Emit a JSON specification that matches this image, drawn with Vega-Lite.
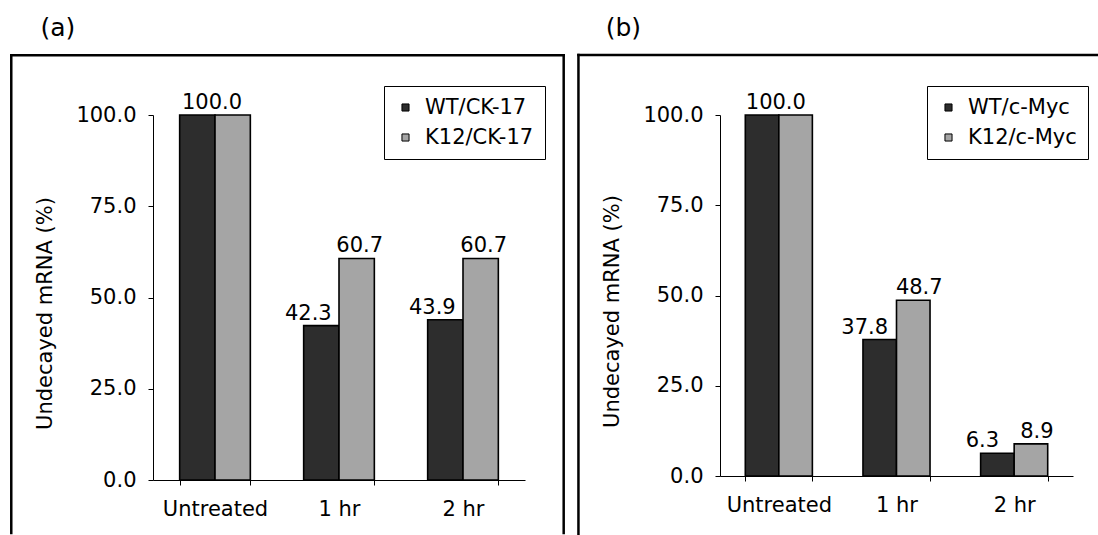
{
  "$schema": "https://vega.github.io/schema/vega-lite/v6.json",
  "autosize": {"type": "pad"},
  "padding": {"left": 9, "top": 16, "right": 0, "bottom": 0},
  "background": "white",
  "config": {
    "view": {"stroke": null},
    "font": "DejaVu Sans",
    "axis": {
      "domainColor": "black", "tickColor": "black", "labelColor": "black", "titleColor": "black",
      "domainWidth": 1, "tickWidth": 1, "tickSize": 5, "grid": false,
      "labelFontSize": 21, "titleFontSize": 21, "titleFontWeight": "normal"
    },
    "legend": {"labelColor": "black"},
    "title": {"fontSize": 25, "fontWeight": "normal", "color": "black", "anchor": "start"}
  },
  "datasets": {
    "a": [
      {"time": "Untreated", "series": "WT/CK-17", "value": 100.0},
      {"time": "Untreated", "series": "K12/CK-17", "value": 100.0},
      {"time": "1 hr", "series": "WT/CK-17", "value": 42.3},
      {"time": "1 hr", "series": "K12/CK-17", "value": 60.7},
      {"time": "2 hr", "series": "WT/CK-17", "value": 43.9},
      {"time": "2 hr", "series": "K12/CK-17", "value": 60.7}
    ],
    "b": [
      {"time": "Untreated", "series": "WT/c-Myc", "value": 100.0},
      {"time": "Untreated", "series": "K12/c-Myc", "value": 100.0},
      {"time": "1 hr", "series": "WT/c-Myc", "value": 37.8},
      {"time": "1 hr", "series": "K12/c-Myc", "value": 48.7},
      {"time": "2 hr", "series": "WT/c-Myc", "value": 6.3},
      {"time": "2 hr", "series": "K12/c-Myc", "value": 8.9}
    ]
  },
  "spacing": 10,
  "resolve": {"scale": {"color": "independent", "y": "independent", "x": "independent", "xOffset": "independent"}, "legend": {"color": "independent"}},
  "hconcat": [
    {
      "title": {"text": "(a)", "dx": 31, "offset": 12},
      "width": 372,
      "height": 365,
      "data": {"name": "a"},
      "resolve": {"scale": {"x": "independent"}},
      "layer": [
        {
          "layer": [
            {
              "mark": {"type": "bar", "stroke": "black", "strokeWidth": 1.6},
              "encoding": {
                "x": {"field": "time", "type": "nominal", "sort": ["Untreated", "1 hr", "2 hr"],
                      "scale": {"paddingInner": 0.43, "paddingOuter": 0.215},
                      "axis": {"title": null, "labelAngle": 0, "tickBand": "extent", "labelPadding": 13}},
                "xOffset": {"field": "series", "type": "nominal", "sort": ["WT/CK-17", "K12/CK-17"], "scale": {"paddingInner": 0, "paddingOuter": 0}},
                "y": {"field": "value", "type": "quantitative", "scale": {"domain": [0, 100], "nice": false},
                      "axis": {"values": [0, 25, 50, 75, 100], "format": ".1f", "title": "Undecayed mRNA (%)", "labelPadding": 12, "titlePadding": 20, "titleY": 198}},
                "color": {"field": "series", "type": "nominal", "sort": ["WT/CK-17", "K12/CK-17"],
                          "scale": {"domain": ["WT/CK-17", "K12/CK-17"], "range": ["#2d2d2d", "#a5a5a5"]},
                          "legend": {"orient": "none", "legendX": 231, "legendY": -29, "title": null,
                                     "strokeColor": "black", "fillColor": "white", "padding": 11,
                                     "labelFontSize": 21, "symbolType": "square", "symbolSize": 50,
                                     "symbolStrokeColor": "black", "symbolStrokeWidth": 1, "rowPadding": 8, "labelOffset": 9}}
              }
            },
            {
              "transform": [{"filter": "datum.series == 'WT/CK-17' && datum.time != 'Untreated'"}],
              "mark": {"type": "text", "fontSize": 21, "baseline": "alphabetic", "dy": -6, "dx": -13, "color": "black"},
              "encoding": {
                "x": {"field": "time", "type": "nominal", "sort": ["Untreated", "1 hr", "2 hr"]},
                "xOffset": {"field": "series", "type": "nominal", "sort": ["WT/CK-17", "K12/CK-17"]},
                "y": {"field": "value", "type": "quantitative"},
                "text": {"field": "value", "type": "quantitative", "format": ".1f"}
              }
            },
            {
              "transform": [{"filter": "datum.series == 'K12/CK-17' && datum.time != 'Untreated'"}],
              "mark": {"type": "text", "fontSize": 21, "baseline": "alphabetic", "dy": -6, "dx": 3, "color": "black"},
              "encoding": {
                "x": {"field": "time", "type": "nominal", "sort": ["Untreated", "1 hr", "2 hr"]},
                "xOffset": {"field": "series", "type": "nominal", "sort": ["WT/CK-17", "K12/CK-17"]},
                "y": {"field": "value", "type": "quantitative"},
                "text": {"field": "value", "type": "quantitative", "format": ".1f"}
              }
            },
            {
              "transform": [{"filter": "datum.series == 'WT/CK-17' && datum.time == 'Untreated'"}],
              "mark": {"type": "text", "fontSize": 21, "baseline": "alphabetic", "dy": -6, "dx": -3, "color": "black"},
              "encoding": {
                "x": {"field": "time", "type": "nominal", "sort": ["Untreated", "1 hr", "2 hr"]},
                "y": {"field": "value", "type": "quantitative"},
                "text": {"field": "value", "type": "quantitative", "format": ".1f"}
              }
            }
          ]
        },
        {
          "data": {"values": [{}]},
          "layer": [
            {
              "mark": {"type": "rule", "color": "black", "strokeWidth": 2.5, "strokeCap": "square"},
              "encoding": {
                "x": {"datum": -0.381, "type": "quantitative", "scale": {"domain": [0, 1], "nice": false, "zero": false}, "axis": null},
                "y": {"datum": 116.4},
                "y2": {"datum": -14.5}
              }
            },
            {
              "mark": {"type": "rule", "color": "black", "strokeWidth": 2.5, "strokeCap": "square"},
              "encoding": {
                "x": {"datum": -0.381, "type": "quantitative", "axis": null},
                "x2": {"datum": 1.104},
                "y": {"datum": 116.4}
              }
            },
            {
              "mark": {"type": "rule", "color": "black", "strokeWidth": 2.5, "strokeCap": "square"},
              "encoding": {
                "x": {"datum": 1.104, "type": "quantitative", "axis": null},
                "y": {"datum": 116.4},
                "y2": {"datum": -14.5}
              }
            }
          ]
        }
      ]
    },
    {
      "title": {"text": "(b)", "dx": 29, "offset": 12},
      "width": 353,
      "height": 361,
      "data": {"name": "b"},
      "resolve": {"scale": {"x": "independent"}},
      "layer": [
        {
          "layer": [
            {
              "mark": {"type": "bar", "stroke": "black", "strokeWidth": 1.6},
              "encoding": {
                "x": {"field": "time", "type": "nominal", "sort": ["Untreated", "1 hr", "2 hr"],
                      "scale": {"paddingInner": 0.43, "paddingOuter": 0.215},
                      "axis": {"title": null, "labelAngle": 0, "tickBand": "extent", "labelPadding": 13}},
                "xOffset": {"field": "series", "type": "nominal", "sort": ["WT/c-Myc", "K12/c-Myc"], "scale": {"paddingInner": 0, "paddingOuter": 0}},
                "y": {"field": "value", "type": "quantitative", "scale": {"domain": [0, 100], "nice": false},
                      "axis": {"values": [0, 25, 50, 75, 100], "format": ".1f", "title": "Undecayed mRNA (%)", "labelPadding": 12, "titlePadding": 20, "titleY": 196}},
                "color": {"field": "series", "type": "nominal", "sort": ["WT/c-Myc", "K12/c-Myc"],
                          "scale": {"domain": ["WT/c-Myc", "K12/c-Myc"], "range": ["#2d2d2d", "#a5a5a5"]},
                          "legend": {"orient": "none", "legendX": 207, "legendY": -29, "title": null,
                                     "strokeColor": "black", "fillColor": "white", "padding": 11,
                                     "labelFontSize": 21, "symbolType": "square", "symbolSize": 50,
                                     "symbolStrokeColor": "black", "symbolStrokeWidth": 1, "rowPadding": 8, "labelOffset": 9}}
              }
            },
            {
              "transform": [{"filter": "datum.series == 'WT/c-Myc' && datum.time != 'Untreated'"}],
              "mark": {"type": "text", "fontSize": 21, "baseline": "alphabetic", "dy": -6, "dx": -15, "color": "black"},
              "encoding": {
                "x": {"field": "time", "type": "nominal", "sort": ["Untreated", "1 hr", "2 hr"]},
                "xOffset": {"field": "series", "type": "nominal", "sort": ["WT/c-Myc", "K12/c-Myc"]},
                "y": {"field": "value", "type": "quantitative"},
                "text": {"field": "value", "type": "quantitative", "format": ".1f"}
              }
            },
            {
              "transform": [{"filter": "datum.series == 'K12/c-Myc' && datum.time != 'Untreated'"}],
              "mark": {"type": "text", "fontSize": 21, "baseline": "alphabetic", "dy": -6, "dx": 6, "color": "black"},
              "encoding": {
                "x": {"field": "time", "type": "nominal", "sort": ["Untreated", "1 hr", "2 hr"]},
                "xOffset": {"field": "series", "type": "nominal", "sort": ["WT/c-Myc", "K12/c-Myc"]},
                "y": {"field": "value", "type": "quantitative"},
                "text": {"field": "value", "type": "quantitative", "format": ".1f"}
              }
            },
            {
              "transform": [{"filter": "datum.series == 'WT/c-Myc' && datum.time == 'Untreated'"}],
              "mark": {"type": "text", "fontSize": 21, "baseline": "alphabetic", "dy": -6, "dx": -3, "color": "black"},
              "encoding": {
                "x": {"field": "time", "type": "nominal", "sort": ["Untreated", "1 hr", "2 hr"]},
                "y": {"field": "value", "type": "quantitative"},
                "text": {"field": "value", "type": "quantitative", "format": ".1f"}
              }
            }
          ]
        },
        {
          "data": {"values": [{}]},
          "layer": [
            {
              "mark": {"type": "rule", "color": "black", "strokeWidth": 2.5, "strokeCap": "square"},
              "encoding": {
                "x": {"datum": -0.401, "type": "quantitative", "scale": {"domain": [0, 1], "nice": false, "zero": false}, "axis": null},
                "y": {"datum": 116.6},
                "y2": {"datum": -16.0}
              }
            },
            {
              "mark": {"type": "rule", "color": "black", "strokeWidth": 2.5, "strokeCap": "square"},
              "encoding": {
                "x": {"datum": -0.401, "type": "quantitative", "axis": null},
                "x2": {"datum": 1.076},
                "y": {"datum": 116.6}
              }
            }
          ]
        }
      ]
    }
  ]
}
